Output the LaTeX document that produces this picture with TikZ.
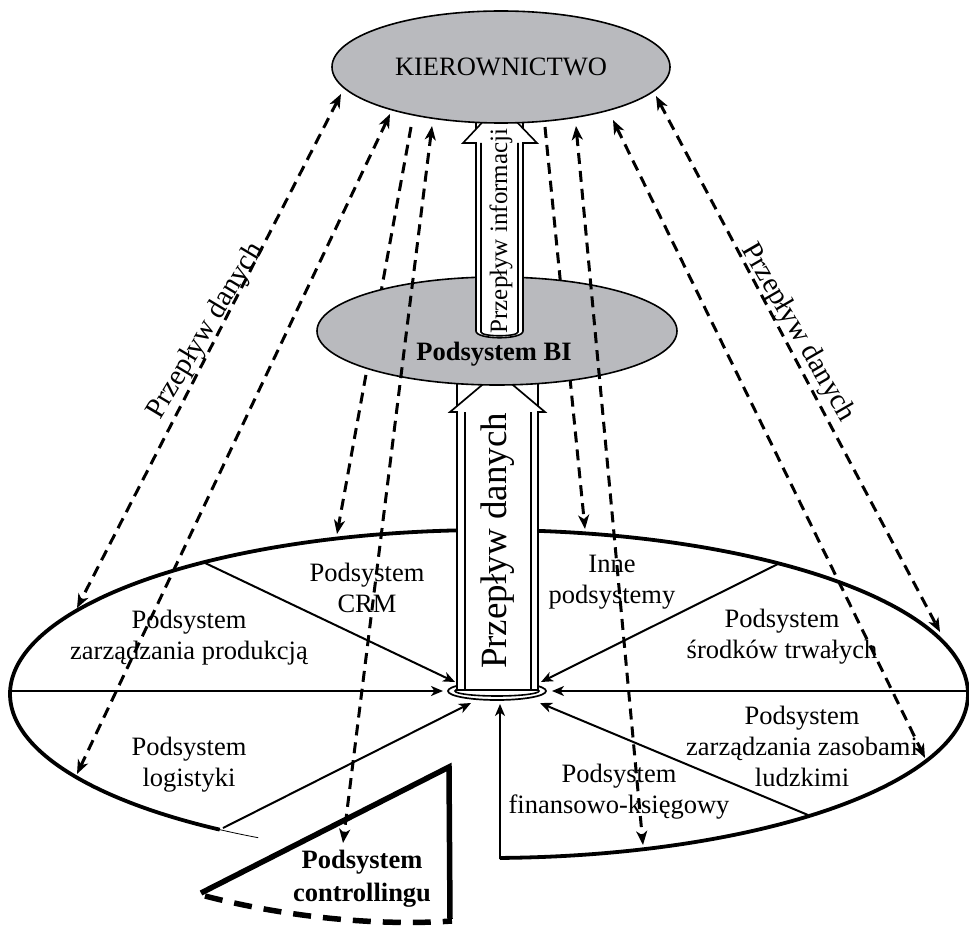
\documentclass[tikz,border=0pt]{standalone}
\usepackage{fontspec}
\setmainfont{Liberation Serif}
\usetikzlibrary{arrows.meta,shapes.geometric}
\definecolor{kgray}{RGB}{185,186,190}
\begin{document}
\begin{tikzpicture}[x=1pt,y=-1pt,
  divtip/.style={-{Stealth[length=12pt,width=10pt,inset=3.5pt]}},
  divline/.style={line width=2pt, divtip},
  flow/.style={line width=3pt, dash pattern=on 11pt off 7pt},
  flowone/.style={flow, -{Stealth[length=14pt,width=11pt,inset=4pt]}},
  flowtwo/.style={flow, {Stealth[length=14pt,width=11pt,inset=4pt]}-{Stealth[length=14pt,width=11pt,inset=4pt]}},
  lbl/.style={font=\fontsize{26.5}{31}\selectfont, align=center, inner sep=0pt},
  blbl/.style={font=\fontsize{26.5}{33}\selectfont\bfseries, align=center, inner sep=0pt},
  oval/.style={draw, ellipse, fill=kgray, line width=1.6pt, inner sep=0pt},
  hollow/.style={draw, fill=white, line width=1.7pt},
  wedge/.style={line width=5.5pt},
]
\useasboundingbox (0,0) rectangle (969,928);

% ---------- big ellipse of subsystems ----------
\draw[line width=3.8pt] plot[domain=-235.8:88.7, samples=320, smooth]
  ({489+479*cos(\x)},{694+164*sin(\x)});
\draw[line width=0.8pt] plot[domain=118.8:124.2, samples=10, smooth]
  ({489+479*cos(\x)},{694+164*sin(\x)});

% ring at the bottom of the data arrow
\draw[hollow] (497,691) ellipse [x radius=49, y radius=9];
\draw[line width=1.6pt] (497,691) ellipse [x radius=42, y radius=5];

% dividing arrows towards the ring
\coordinate (s1) at (203,562);  \coordinate (e1) at (455,682);
\coordinate (s2) at (10,691);   \coordinate (e2) at (443,691);
\coordinate (s3) at (223,828);  \coordinate (e3) at (471,703);
\coordinate (s4) at (500,859);  \coordinate (e4) at (500,704);
\coordinate (s5) at (808,815);  \coordinate (e5) at (540,703);
\coordinate (s6) at (968,691);  \coordinate (e6) at (552,691);
\coordinate (s7) at (780,563);  \coordinate (e7) at (541,682);
\draw[divline] (s1) -- (e1);
\draw[divline] (s2) -- (e2);
\draw[divline] (s3) -- (e3);
\draw[divline] (s4) -- (e4);
\draw[divline] (s5) -- (e5);
\draw[divline] (s6) -- (e6);
\draw[divline] (s7) -- (e7);

% labels
\node[lbl] (crm) at (367,588) {Podsystem\\CRM};
\node[lbl] (prod) at (189,638) {Podsystem\\zarządzania produkcją};
\node[lbl] (log) at (189,765) {Podsystem\\logistyki};
\node[lbl] (inne) at (612,582) {Inne\\podsystemy};
\node[lbl] (srod) at (782,637) {Podsystem\\środków trwałych};
\node[lbl] (hr) at (802,746) {Podsystem\\zarządzania zasobami\\ludzkimi};
\node[lbl] (fin) at (619,792) {Podsystem\\finansowo-księgowy};

% controlling wedge
\coordinate (w1) at (201,893);
\coordinate (w2) at (449,767);
\coordinate (w3) at (450,919);
\draw[wedge, line join=miter] (w1) -- (w2) -- (w3);
\draw[wedge, dash pattern=on 18pt off 12pt] (205,896) .. controls (290,918) and (380,926) .. (452,921);
\node[blbl] (ctrl) at (362,879) {Podsystem\\controllingu};

% ---------- dashed flows passing behind the BI ellipse ----------
\coordinate (ct) at (411,127); \coordinate (cb) at (337,534);
\coordinate (et) at (545,127); \coordinate (eb) at (585,529);
\draw[flowone] (ct) -- (cb);
\draw[flowone] (et) -- (eb);

% ---------- big arrow: Przepływ danych ----------
\draw[line width=1.7pt] (457,412) -- (457,375) (538,412) -- (538,375);
\draw[hollow] (457,690) -- (457,412) -- (450,412) -- (497.5,372) -- (545,412)
  -- (538,412) -- (538,690) -- cycle;
\draw[line width=1.7pt] (465,412) -- (465,689) (531,412) -- (531,689);
\node[rotate=90, font=\fontsize{37}{40}\selectfont, inner sep=0pt] (pd) at (498,541) {Przepływ danych};

% ---------- BI ellipse ----------
\node[oval, minimum width=360pt, minimum height=108pt] (BI) at (497,331) {};
\node[blbl] (bilbl) at (494,354) {Podsystem BI};

% ---------- arrow: Przepływ informacji ----------
\draw[line width=1.6pt] (476,143) -- (476,112) (523,143) -- (523,112);
\draw[hollow, line width=1.6pt] (476,143) -- (463,143) -- (499.5,104) -- (537,143) -- (523,143)
  -- (523,331) .. controls (523,340) and (476,340) .. (476,331) -- cycle;
\draw[line width=1.6pt] (481,143) -- (481,332) .. controls (481,337) and (518,337) .. (518,332) -- (518,143);
\node[rotate=90, font=\fontsize{25}{28}\selectfont, inner sep=0pt] (pi) at (501,231) {Przepływ informacji};

% ---------- KIEROWNICTWO ----------
\node[oval, minimum width=338pt, minimum height=112pt, font=\fontsize{26.5}{30}\selectfont] (K) at (501,67) {KIEROWNICTWO};

% ---------- remaining dashed flows ----------
\coordinate (at) at (341,94);  \coordinate (ab) at (77,608);
\coordinate (bt) at (390,114); \coordinate (bb) at (77,774);
\coordinate (dt) at (432,126); \coordinate (db) at (343,843);
\coordinate (ft) at (576,126); \coordinate (fb) at (643,845);
\coordinate (gt) at (613,120); \coordinate (gb) at (925,758);
\coordinate (ht) at (656,96);  \coordinate (hb) at (940,632);
\draw[flowtwo] (at) -- (ab);
\draw[flowtwo] (bt) -- (bb);
\draw[flowtwo] (dt) -- (db);
\draw[flowtwo] (ft) -- (fb);
\draw[flowtwo] (gt) -- (gb);
\draw[flowtwo] (ht) -- (hb);

% side labels
\node[rotate=59, font=\fontsize{29}{32}\selectfont, inner sep=0pt] (ll) at (206,331) {Przepływ danych};
\node[rotate=-60, font=\fontsize{29}{32}\selectfont, inner sep=0pt] (rl) at (798,333) {Przepływ danych};
\end{tikzpicture}
\end{document}
